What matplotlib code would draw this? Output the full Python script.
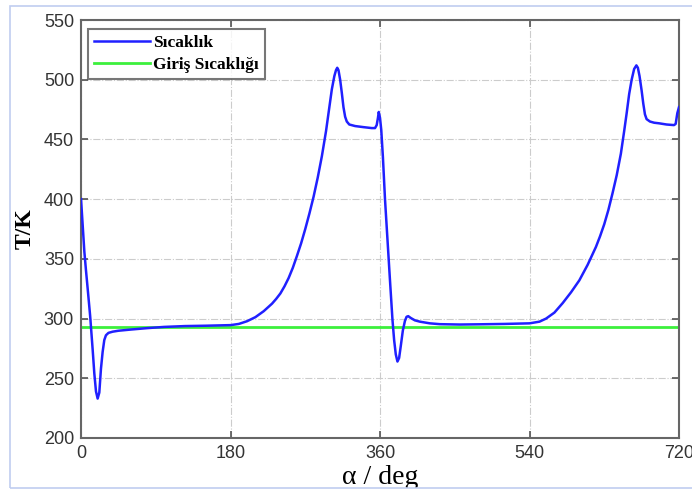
import matplotlib.pyplot as plt
from matplotlib.patches import Rectangle

#---------- Data ----------#

crank_deg = [0, 2, 4, 6, 8, 11, 14, 16, 18, 20, 22, 24, 26, 28, 30, 33, 38, 45, 60, 80,
             100, 125, 150, 180, 190, 200, 210, 220, 230, 235, 240, 245, 250, 255, 260, 265,
             270, 275, 280, 285, 290, 295, 299, 302, 305, 307, 308.5, 310, 312, 314, 316, 318,
             320, 323, 330, 340, 350, 354, 356, 357.5, 358.5, 360, 361.5, 363.5, 366, 369, 372,
             375, 377, 379, 381, 383, 385, 387.5, 390, 392, 394, 397, 402, 408, 420, 432, 456,
             480, 510, 540, 552, 560, 570, 580, 590, 600, 610, 620, 625, 630, 635, 640, 645,
             650, 654, 657, 660, 663, 666, 668.7, 670.5, 672.5, 675, 677, 679, 681, 685, 690,
             696, 705, 714, 716, 718, 720]
temp_K = [400, 378, 356, 340, 325, 302, 274, 254, 239, 233, 238, 258, 272, 282, 286,
          288, 289, 289.8, 290.8, 292, 293, 293.7, 294, 294.5, 295.5, 297.8, 301.2, 306.2, 312.5,
          316.5, 321, 327, 334, 342.5, 352.5, 363, 375, 388, 402, 418, 436, 457, 477, 492, 503,
          508, 510, 508, 500, 489, 477, 469, 465, 462.5, 461.2, 460.3, 459.5, 459.5, 462, 468,
          473, 468, 458, 435, 400, 366, 332, 299, 282, 270, 264, 267, 277, 290, 298, 301.5, 302,
          300.5, 298.5, 297.4, 296, 295.3, 295, 295.2, 295.5, 296, 297.4, 300, 305, 313, 322,
          332, 345, 360, 369, 379, 391, 405, 420, 438, 457, 472, 488, 500, 509, 512, 510, 503,
          491, 480, 471, 467, 465, 464, 463.5, 462.5, 462, 463, 472, 477]
inlet_deg = [0, 720]
inlet_K = [292.7, 292.7]

x_ticks = [0, 180, 360, 540, 720]
y_ticks = [200, 250, 300, 350, 400, 450, 500, 550]

#---------- Plot ----------#

fig = plt.figure(figsize=(6.92, 4.94), dpi=100)
ax = fig.add_axes([0.1171, 0.1134, 0.8641, 0.8461])

ax.plot(crank_deg, temp_K, color='#2020ff', lw=1.8, label='Sıcaklık', zorder=3)
ax.plot(inlet_deg, inlet_K, color='#3cf03c', lw=2.0, label='Giriş Sıcaklığı', zorder=2)

ax.set_xlim(0, 720)
ax.set_ylim(200, 550)
ax.set_xticks(x_ticks)
ax.set_yticks(y_ticks)
ax.grid(True, color='#cccccc', ls='-.', lw=0.8)
ax.tick_params(direction='in', length=5, width=1.2, top=True, right=True,
               colors='#555555', labelcolor='#333333', labelsize=13, pad=5)
for lab in ax.get_xticklabels() + ax.get_yticklabels():
    lab.set_family('Liberation Sans')
for sp in ax.spines.values():
    sp.set_color('#666666')
    sp.set_linewidth(1.5)

ax.set_ylabel('T/K', family='Liberation Serif', weight='bold', fontsize=17, labelpad=6)
ax.set_xlabel('α / deg', family='Liberation Serif', fontsize=20, labelpad=2)

leg = ax.legend(loc='upper left', bbox_to_anchor=(0.012, 0.978), borderaxespad=0,
                fancybox=False, handlelength=3.2, handletextpad=0.2, labelspacing=0.3,
                borderpad=0.35, prop={'family': 'Liberation Serif', 'weight': 'bold', 'size': 12.5})
leg.get_frame().set_edgecolor('#555555')
leg.get_frame().set_linewidth(1.5)

# screenshot frame: light blue border, everything below it blank
fig.patches.append(Rectangle((0, 0), 1, 6 / 494, transform=fig.transFigure,
                             facecolor='white', edgecolor='none', zorder=10))
fig.patches.append(Rectangle((10 / 692, 6 / 494), 1, 482 / 494, transform=fig.transFigure,
                             facecolor='none', edgecolor='#c0cdf0', lw=1.2, zorder=11))

plt.savefig('out.png')
